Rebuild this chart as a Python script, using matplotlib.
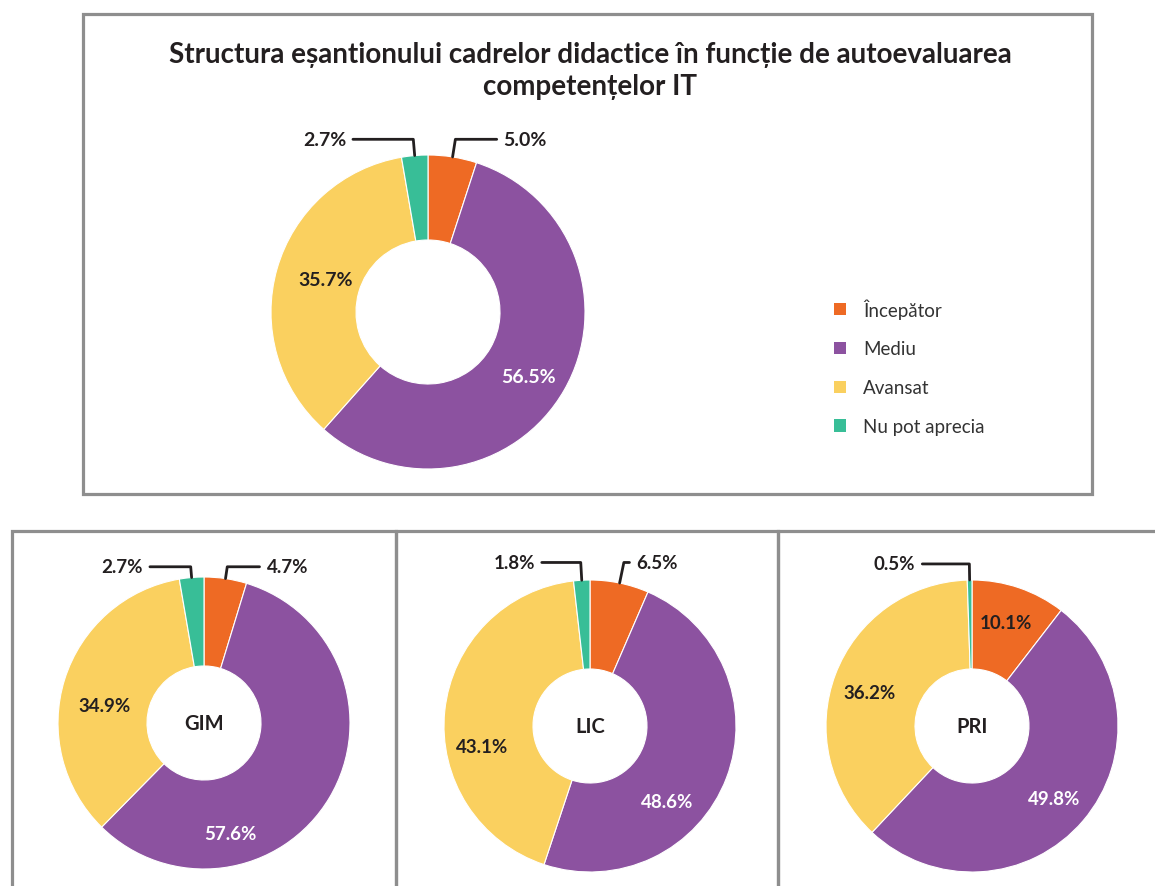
import matplotlib
matplotlib.use('Agg')
import numpy as np
import matplotlib.pyplot as plt
from matplotlib.patches import Rectangle, Patch

plt.rcParams['font.family'] = ['Lato', 'DejaVu Sans']

# data
categories = ['Începător', 'Mediu', 'Avansat', 'Nu pot aprecia']
total_values = [5.0, 56.5, 35.7, 2.7]
gim_values = [4.7, 57.6, 34.9, 2.7]
lic_values = [6.5, 48.6, 43.1, 1.8]
pri_values = [10.1, 49.8, 36.2, 0.5]
panel_names = ['GIM', 'LIC', 'PRI']
title = 'Structura eșantionului cadrelor didactice în funcție de autoevaluarea\ncompetențelor IT'

# style / layout
colors = ['#EE6A24', '#8C52A0', '#FAD05F', '#38BE97']
dark = '#231F20'
border = '#8E8E8E'
W, H = 1155, 887

# label spots (in units of outer radius) per chart
top_lbl = [(0.62, 1.10), (0.64, -0.41), (-0.65, 0.21), (-0.66, 1.10)]
bottom_lbl = [
    [(0.57, 1.07), (0.18, -0.76), (-0.68, 0.12), (-0.56, 1.07)],
    [(0.46, 1.12), (0.53, -0.52), (-0.74, -0.14), (-0.52, 1.12)],
    [(0.23, 0.71), (0.56, -0.50), (-0.70, 0.23), (-0.53, 1.11)],
]

fig = plt.figure(figsize=(W / 100, H / 100), dpi=100)


def px_axes(cx, cy, half):
    return fig.add_axes([(cx - half) / W, 1 - (cy + half) / H, 2 * half / W, 2 * half / H])


def donut(ax, values, hole, label_pos, fs, center_text=None):
    ax.pie(values, colors=colors, startangle=90, counterclock=False, radius=1,
           wedgeprops=dict(width=1 - hole, edgecolor='white', linewidth=0.8))
    ax.set_xlim(-1.35, 1.35)
    ax.set_ylim(-1.35, 1.35)
    ax.set_aspect('equal')
    ax.axis('off')
    vals = np.array(values, dtype=float)
    frac = vals / vals.sum()
    starts = 90 - 360 * np.concatenate([[0], np.cumsum(frac)[:-1]])
    mids = starts - 180 * frac
    for i, v in enumerate(values):
        tx, ty = label_pos[i]
        txt = f'{v:.1f}%'
        col = 'white' if i == 1 else dark
        if ty > 1.0:
            a = np.deg2rad(mids[i])
            ax.annotate(txt, xy=(np.cos(a), np.sin(a)), xytext=(tx, ty),
                        ha='center', va='center', fontsize=fs, fontweight='bold', color=dark,
                        arrowprops=dict(arrowstyle='-', color=dark, lw=2.0, shrinkA=3, shrinkB=0,
                                        connectionstyle=f'angle,angleA=0,angleB={mids[i]},rad=0'),
                        annotation_clip=False)
        else:
            ax.text(tx, ty, txt, ha='center', va='center', fontsize=fs,
                    fontweight='bold', color=col)
    if center_text:
        ax.text(0, 0, center_text, ha='center', va='center', fontsize=14.5,
                fontweight='bold', color=dark)


# top panel
fig.add_artist(Rectangle((83 / W, 1 - 495 / H), 1009 / W, 480 / H, transform=fig.transFigure,
                         fill=False, ec=border, lw=2.3))
fig.text(590 / W, 1 - 71 / H, title, ha='center', va='center', fontsize=20,
         fontweight='bold', color=dark, linespacing=1.28)

R_top = 157
ax_top = px_axes(428, 313, R_top * 1.35)
donut(ax_top, total_values, 72 / 157, top_lbl, 14)

handles = [Patch(facecolor=c, edgecolor='none') for c in colors]
fig.legend(handles, categories, loc='upper left', bbox_to_anchor=(834 / W, 1 - 299 / H),
           bbox_transform=fig.transFigure, frameon=False, fontsize=13.5, handlelength=0.65,
           handleheight=0.65, handletextpad=0.9, labelspacing=1.17, borderpad=0,
           borderaxespad=0, labelcolor='#333333')

# bottom panels
box_edges = [12, 396, 778, 1162]
for k in range(3):
    x0, x1 = box_edges[k], box_edges[k + 1]
    fig.add_artist(Rectangle((x0 / W, 1 - 905 / H), (x1 - x0) / W, (905 - 532) / H,
                             transform=fig.transFigure, fill=False, ec=border, lw=2.3))

bottom_values = [gim_values, lic_values, pri_values]
centers = [(204, 724), (590, 727), (972, 727)]
R_bot = 146
for k in range(3):
    cx, cy = centers[k]
    ax = px_axes(cx, cy, R_bot * 1.35)
    donut(ax, bottom_values[k], 57 / 146, bottom_lbl[k], 13.5, panel_names[k])

fig.savefig('out.png', dpi=100, facecolor='white')
